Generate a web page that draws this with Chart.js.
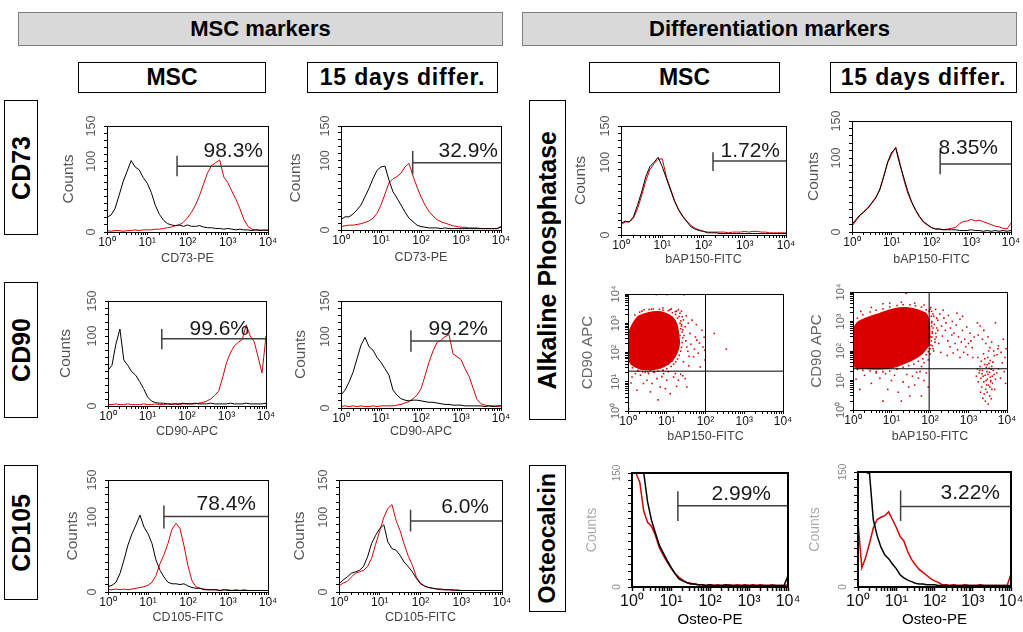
<!DOCTYPE html>
<html>
<head>
<meta charset="utf-8">
<script src="https://cdn.jsdelivr.net/npm/chart.js@4.4.1/dist/chart.umd.min.js"></script>
<style>
  body { margin: 0; width: 1023px; height: 632px; overflow: hidden; background: #fff; position: relative;
         font-family: "Liberation Sans", Arial, Helvetica, sans-serif; }
  .hdr { position: absolute; background: #d9d9d9; border: 1px solid #7f7f7f; box-sizing: border-box;
         display: flex; align-items: center; justify-content: center; font-weight: bold; font-size: 22px; }
  .col { position: absolute; border: 1.5px solid #000; box-sizing: border-box; background: #fff;
         display: flex; align-items: center; justify-content: center; font-weight: bold; font-size: 23px; }
  .wide { letter-spacing: 0.8px; }
  .row { position: absolute; border: 1.5px solid #000; box-sizing: border-box;
         display: flex; align-items: center; justify-content: center; font-weight: bold; font-size: 25px; }
  .row span { writing-mode: vertical-rl; transform: rotate(180deg); white-space: nowrap; }
  canvas { position: absolute; }
</style>
</head>
<body>
<div class="hdr" style="left:18px;top:12px;width:485px;height:34px">MSC markers</div>
<div class="hdr" style="left:522px;top:12px;width:495px;height:34px">Differentiation markers</div>
<div class="col" style="left:78px;top:62px;width:188px;height:31px">MSC</div>
<div class="col wide" style="left:307px;top:62px;width:191px;height:31px">15 days differ.</div>
<div class="col" style="left:589px;top:62px;width:191px;height:31px">MSC</div>
<div class="col wide" style="left:830px;top:62px;width:187px;height:31px">15 days differ.</div>
<div class="row" style="left:4px;top:100px;width:34px;height:135px"><span>CD73</span></div>
<div class="row" style="left:4px;top:282px;width:34px;height:136px"><span>CD90</span></div>
<div class="row" style="left:4px;top:465px;width:34px;height:135px"><span>CD105</span></div>
<div class="row" style="left:529px;top:100px;width:37px;height:320px"><span>Alkaline Phosphatase</span></div>
<div class="row" style="left:529px;top:465px;width:37px;height:147px;font-size:23px"><span>Osteocalcin</span></div>

<script>
// fluorescence channels (log spaced, 10 per decade)
const channels = [1, 1.26, 1.58, 2, 2.51, 3.16, 3.98, 5.01, 6.31, 7.94,
  10, 12.6, 15.8, 20, 25.1, 31.6, 39.8, 50.1, 63.1, 79.4,
  100, 126, 158, 200, 251, 316, 398, 501, 631, 794,
  1000, 1260, 1580, 2000, 2510, 3160, 3980, 5010, 6310, 7940, 10000];
const decadeLabels = ['10⁰', '10¹', '10²', '10³', '10⁴'];
const countTicks = [0, 100, 150];
const osteoCountTicks = [0, 150];

// histogram counts: isotype (black) and stained (red)
const cd73MscIso = [21, 24, 33, 52, 71, 86, 101, 92, 88, 77, 69, 56, 38, 25, 17, 12, 10, 9, 10, 8, 10, 8, 8, 9, 7, 6, 6, 5, 5, 4, 5, 4, 3, 4, 3, 3, 2, 3, 2, 3, 2];
const cd73Msc = [2, 1, 2, 2, 1, 2, 2, 3, 2, 3, 3, 3, 4, 4, 5, 6, 7, 9, 10, 14, 20, 28, 38, 52, 68, 84, 94, 98, 102, 78, 70, 58, 47, 33, 18, 8, 4, 3, 3, 2, 3];
const cd73DiffIso = [15, 19, 19, 23, 29, 36, 48, 60, 74, 86, 91, 92, 72, 55, 46, 36, 26, 17, 12, 7, 5, 4, 3, 3, 3, 2, 3, 2, 2, 2, 2, 2, 2, 2, 2, 2, 2, 2, 2, 2, 5];
const cd73Diff = [5, 6, 7, 7, 8, 9, 11, 13, 17, 24, 36, 52, 68, 74, 77, 82, 91, 96, 78, 62, 48, 36, 27, 20, 15, 12, 10, 8, 6, 5, 4, 4, 3, 3, 3, 2, 2, 2, 2, 2, 4];
const alpMscIso = [16, 19, 18, 25, 41, 59, 80, 94, 100, 107, 94, 78, 62, 46, 34, 25, 18, 11, 8, 6, 5, 3, 3, 3, 2, 2, 2, 2, 2, 2, 2, 2, 2, 2, 2, 2, 2, 2, 2, 2, 2];
const alpMsc = [14, 18, 18, 23, 36, 54, 74, 90, 98, 104, 105, 80, 64, 47, 35, 26, 19, 13, 9, 7, 5, 4, 4, 4, 4, 4, 3, 4, 4, 4, 5, 4, 5, 5, 4, 4, 3, 3, 3, 3, 3];
const alpDiffIso = [10, 17, 23, 27, 32, 39, 46, 57, 75, 95, 108, 113, 92, 74, 56, 41, 30, 21, 14, 10, 6, 4, 4, 3, 3, 3, 3, 2, 2, 2, 3, 2, 2, 1, 2, 1, 2, 1, 2, 1, 2];
const alpDiff = [8, 15, 22, 28, 33, 40, 47, 58, 76, 94, 105, 115, 95, 71, 53, 40, 29, 20, 13, 9, 6, 4, 4, 3, 4, 5, 6, 11, 14, 15, 17, 15, 16, 14, 12, 10, 8, 7, 5, 4, 12];
const cd90MscIso = [51, 58, 88, 110, 66, 58, 49, 44, 35, 25, 13, 7, 5, 4, 4, 3, 3, 3, 3, 4, 3, 3, 4, 3, 3, 3, 4, 3, 3, 3, 3, 4, 3, 3, 3, 4, 3, 3, 3, 3, 4];
const cd90Msc = [2, 2, 3, 2, 2, 3, 2, 2, 2, 3, 2, 2, 3, 2, 2, 3, 2, 3, 2, 3, 3, 3, 3, 4, 5, 7, 10, 15, 21, 40, 62, 76, 86, 91, 95, 116, 100, 92, 70, 47, 100];
const cd90DiffIso = [18, 25, 36, 50, 69, 88, 99, 86, 81, 71, 64, 55, 46, 25, 18, 13, 11, 10, 11, 11, 10, 9, 8, 8, 7, 6, 5, 5, 4, 4, 4, 3, 3, 3, 3, 3, 2, 3, 2, 3, 3];
const cd90Diff = [2, 3, 2, 3, 2, 3, 2, 2, 3, 2, 3, 3, 3, 3, 4, 5, 7, 9, 13, 18, 27, 45, 64, 80, 92, 95, 100, 103, 76, 72, 68, 55, 45, 28, 12, 6, 4, 3, 3, 2, 3];
const cd105MscIso = [7, 9, 13, 25, 43, 63, 78, 90, 103, 87, 78, 65, 43, 29, 20, 13, 11, 11, 10, 11, 8, 6, 5, 5, 3, 3, 3, 3, 2, 3, 2, 2, 2, 2, 2, 2, 2, 2, 2, 2, 2];
const cd105Msc = [3, 3, 4, 3, 4, 3, 4, 5, 6, 7, 9, 13, 22, 38, 50, 65, 84, 92, 85, 62, 35, 15, 7, 5, 4, 3, 3, 3, 2, 3, 3, 2, 3, 2, 3, 2, 2, 2, 2, 2, 2];
const cd105DiffIso = [11, 16, 20, 25, 27, 29, 34, 47, 65, 76, 85, 90, 67, 58, 56, 49, 40, 34, 27, 18, 11, 8, 6, 5, 4, 4, 3, 3, 3, 2, 2, 2, 2, 2, 2, 2, 2, 2, 2, 2, 2];
const cd105Diff = [8, 12, 14, 20, 25, 27, 29, 34, 45, 64, 82, 100, 112, 117, 96, 82, 64, 48, 36, 20, 12, 8, 6, 5, 4, 3, 3, 3, 2, 3, 2, 2, 2, 2, 2, 2, 2, 2, 2, 2, 2];
const osteoMscIso = [150, 150, 150, 150, 112, 88, 71, 55, 45, 35, 26, 18, 11, 8, 6, 4, 4, 3, 3, 2, 3, 2, 2, 2, 3, 2, 2, 2, 2, 2, 2, 2, 2, 2, 2, 2, 2, 2, 2, 2, 15];
const osteoMsc = [150, 150, 138, 100, 85, 80, 68, 52, 42, 33, 25, 18, 13, 9, 6, 5, 4, 3, 3, 2, 3, 2, 3, 2, 2, 3, 2, 3, 2, 3, 2, 3, 2, 3, 2, 2, 3, 2, 2, 2, 3];
const osteoDiffIso = [150, 150, 150, 148, 88, 67, 52, 42, 37, 30, 24, 16, 12, 9, 7, 5, 4, 4, 3, 3, 3, 2, 2, 2, 2, 2, 2, 2, 2, 2, 2, 2, 2, 2, 2, 2, 2, 2, 2, 2, 2];
const osteoDiff = [85, 25, 38, 57, 77, 88, 91, 93, 98, 88, 78, 66, 60, 46, 36, 29, 23, 19, 15, 11, 8, 6, 3, 3, 2, 3, 2, 2, 3, 2, 2, 2, 3, 2, 2, 2, 2, 2, 2, 2, 17];

// marker gates, one per histogram panel
const gatePercent = ['98.3%', '32.9%', '1.72%', '8.35%', '99.6%', '99.2%', '78.4%', '6.0%', '2.99%', '3.22%'];
const gateStart = [55, 62, 170, 165, 23, 56, 25, 57, 15, 13];
const gateLevel = [93, 97, 102, 92, 96, 94, 101, 95, 107, 105];
const gateHigh = [108, 114, 114, 109, 110, 109, 116, 110, 126, 126];
const gateLow = [79, 80, 88, 78, 81, 79, 85, 81, 87, 86];

// dot plots: CD90 APC vs bAP150-FITC
const quadX = [100, 95];
const quadY = [23, 25];
const alpMscBlobX = [1.04, 1.3, 1.9, 3.1, 5.6, 9.1, 14, 18, 20, 21, 19, 15.5, 12, 8.3, 5.6, 3.1, 1.9, 1.26, 1.07, 1.04, 1.04];
const alpMscBlobY = [450, 900, 1750, 2200, 2450, 2200, 1600, 950, 450, 200, 110, 66, 45, 33, 28, 26, 29, 38, 55, 155, 450];
const alpMscDots = [[30,760],[40,450],[33,155],[49,71],[60,265],[81,580],[86,155],[73,32],[45,1280],[27,48],[37,35],[25,1680],
  [16.6,2500],[22,2200],[27,1300],[5.4,9500],[10,9500],[28,9500],[168,450],[344,130],
  [24,900],[26,600],[28,380],[31,250],[35,110],[38,75],[42,190],[52,130],[55,340],[65,95],[70,210],[92,330],[95,120],
  [24,2600],[13,3100],[8,3300],[4,3000],[2.3,2600],[1.5,1900],[20,2900],[32,1800],[36,1000],[58,900],[96,55],
  [1.27,14.6],[2.1,16.7],[3.1,11.3],[4.2,8.7],[5.6,12.8],[6.8,6.6],[10,11.3],[15,14.6],[20,11.3],[30,12.8],
  [6,2.4],[3.8,4.5],[1.7,5.1],[1.04,1.2],[2.5,8.7],[12.3,3.9],[9.2,5.8],[33,6.6],[3.4,19],[8.3,19],[16.6,19],[1.55,19],
  [4.8,21],[11,22],[23,18],[7.5,15],[2.8,21],[1.2,9],[18,7],[26,16],
  [2,2400],[2.6,2900],[3.5,2950],[4.5,3100],[6.5,3000],[8,2800],[11,2700],[14,2300],[17,2000],[19,1500],
  [23,1200],[24,800],[25,500],[26,320],[25,220],[24,150],[23,110],[21,80],[19,60],[17,48],
  [1.3,30],[1.8,24],[2.4,22],[3.3,21.5],[4.5,22],[6,23],[8,25],[10,28],[13,33],[15,40],
  [21,1700],[18,2600],[12,2900],[22,1000],[23,650],[22,380],[21,260],[20,130],[16,70],[14,52],[11,40],[7,30],[3.8,25],[2.2,27]];
const alpDiffBlobX = [1.04, 1.35, 2.2, 4.9, 11, 24, 50, 80, 95, 95, 76, 52, 30, 13.3, 4.9, 2.2, 1.1, 1.04, 1.04];
const alpDiffBlobY = [600, 950, 1300, 1850, 2600, 2900, 2400, 1800, 850, 190, 110, 68, 46, 30, 25, 26, 30, 85, 600];
const alpDiffDots = [[13,10000],[24,9000],[6,4000],[9,4200],[3,3000],[1.6,2200],[40,4200],[70,3600],[18,4500],[100,2600],
  [110,2200],[125,1500],[140,2600],[160,1100],[180,1800],[200,700],[230,1300],[260,900],[300,1600],[340,600],[380,1000],
  [420,400],[480,750],[550,300],[600,1200],[700,500],[800,250],[900,650],[1000,180],[1100,400],[1250,130],[1400,300],
  [115,400],[135,250],[150,600],[170,180],[210,320],[250,500],[290,220],[330,140],[370,350],[450,180],[520,110],[650,200],
  [750,90],[850,140],[950,75],[1150,220],[1300,60],[120,120],[190,90],[280,70],[400,85],[600,60],[105,3000],[220,2400],
  [500,1900],[700,1500],[1700,900],[2000,700],[1800,350],[2500,500],[3200,300],[4000,200],[5000,900],[6000,150],[8000,250],
  [9500,120],[2300,250],[2800,180],[3600,130],[4500,100],[5500,75],[7000,90],[8800,60],
  [1700,25],[1900,18],[2100,12],[2300,22],[2500,9],[2700,15],[2900,28],[3100,11],[3300,7],[3500,19],[3700,13],[3900,24],
  [4200,8],[4600,16],[5000,11],[1800,9],[2000,30],[2200,6],[2400,14],[2600,35],[2800,5],[3000,20],[3200,16],[3400,38],
  [3600,6],[3800,10],[4000,30],[4400,22],[4800,5],[5400,18],[2150,45],[2650,55],[3150,60],[3650,48],[4300,42],[1600,14],
  [2050,4],[2550,3.5],[3050,4],[3550,3],[4050,5],[2350,2.5],[2750,2],[3250,1.6],[3900,2.4],[6000,25],[6800,12],[7500,40],
  [8500,20],[9200,8],[1750,60],[2450,80],[3350,100],[4700,70],[5800,120],[2250,17],[2850,10],[3450,26],[3750,9],[4150,14],
  [2950,7],[1950,22],[3050,34],
  [3,8],[5,12],[8,5],[12,15],[20,9],[30,3],[50,12],[80,18],[90,6],[2,15],[1.5,5],[6,2],[15,4],[40,7],[60,3],[25,16],
  [10,10],[4,18],[35,14],[70,10],[18,2],[45,19],[1.2,11],[7,17],[55,20],[28,6],
  [110,900],[120,600],[105,300],[115,150],[100,80],[90,50],[70,40],[60,30],
  [1.3,1300],[1.8,1700],[2.8,2100],[4,2400],[6,2700],[9,3100],[14,3500],[20,3700],[30,3700],[42,3400],[60,3100],[80,2500],[95,2200],
  [108,1500],[112,1000],[110,700],[115,450],[112,300],[108,220],[105,160],[100,120],[90,95],
  [80,75],[65,55],[50,45],[38,36],[28,32],[20,28],[14,24],[9,21],[6,20],[4,20],[2.8,21],[1.8,22],[1.3,24],[1.1,30],
  [120,1800],[130,800],[140,400],[135,200],[125,100],[150,1300],[160,500],[145,300]];

Chart.defaults.font.family = '"Liberation Sans", Arial, Helvetica, sans-serif';
const RED = 'rgb(218,0,0)';
const PAD_T = 14, PAD_R = 14;

function decadeTick(v) {
  const e = Math.log10(v), r = Math.round(e);
  return Math.abs(e - r) < 1e-6 ? decadeLabels[r] : '';
}
// keep 1..9 x 10^n ticks only
function keepLogTicks(s) {
  s.ticks = s.ticks.filter(function (t) {
    const m = t.value / Math.pow(10, Math.floor(Math.log10(t.value) + 1e-9));
    return Math.abs(m - Math.round(m)) < 1e-6;
  });
}

const framePlugin = {
  id: 'frame',
  afterDatasetsDraw(chart, args, o) {
    const a = chart.chartArea, ctx = chart.ctx;
    const w = o.width || 1, off = w % 2 ? 0.5 : 0;
    ctx.save();
    ctx.strokeStyle = '#000';
    ctx.lineWidth = w;
    ctx.strokeRect(Math.round(a.left) + off, Math.round(a.top) + off,
      Math.round(a.right - a.left), Math.round(a.bottom - a.top));
    ctx.restore();
  }
};

const gateLabelPlugin = {
  id: 'gateLabel',
  afterDatasetsDraw(chart, args, o) {
    if (!o || !o.text) return;
    const a = chart.chartArea, ctx = chart.ctx;
    const y = chart.scales.y.getPixelForValue(o.level);
    ctx.save();
    ctx.font = '21px "Liberation Sans", Arial, sans-serif';
    ctx.fillStyle = '#1a1a1a';
    ctx.textAlign = 'right';
    ctx.textBaseline = 'alphabetic';
    ctx.fillText(o.text, a.right - o.inset, y - o.gap);
    ctx.restore();
  }
};

function makeCanvas(p) {
  const l = p.box[0], t = p.box[1], r = p.box[2], b = p.box[3];
  const w = (r - l) + p.yW + PAD_R, h = (b - t) + p.xH + PAD_T;
  const cv = document.createElement('canvas');
  cv.width = w; cv.height = h;
  cv.style.left = (l - p.yW) + 'px';
  cv.style.top = (t - PAD_T) + 'px';
  cv.style.width = w + 'px';
  cv.style.height = h + 'px';
  document.body.appendChild(cv);
  return cv;
}

function xLogAxis(p, big) {
  return {
    type: 'logarithmic', min: 1, max: 10000,
    afterBuildTicks: keepLogTicks,
    afterFit: function (s) { s.height = p.xH; },
    border: { display: true, color: '#000', width: big ? 2 : 1 },
    grid: { drawOnChartArea: false, drawTicks: true, tickLength: big ? 4 : 3, tickColor: '#000', tickWidth: big ? 1.5 : 1 },
    ticks: { autoSkip: false, maxRotation: 0, minRotation: 0, padding: big ? 1 : 0,
             color: '#111', font: { size: big ? 16 : 12 }, callback: decadeTick },
    title: { display: true, text: p.title, color: big ? '#000' : '#444', font: { size: big ? 15 : 12.5 }, padding: 0 }
  };
}

const histPanels = [
  { box: [107, 126, 268, 232], yW: 48, xH: 34, title: 'CD73-PE', iso: cd73MscIso, stain: cd73Msc, inset: 5, gap: 9 },
  { box: [341, 126, 501, 230], yW: 55, xH: 35, title: 'CD73-PE', iso: cd73DiffIso, stain: cd73Diff, inset: 3, gap: 6 },
  { box: [621, 126, 786, 235], yW: 50, xH: 32, title: 'bAP150-FITC', iso: alpMscIso, stain: alpMsc, inset: 6, gap: 4 },
  { box: [852, 121, 1011, 232], yW: 48, xH: 35, title: 'bAP150-FITC', iso: alpDiffIso, stain: alpDiff, inset: 13, gap: 10 },
  { box: [108, 301, 266, 406], yW: 52, xH: 33, title: 'CD90-APC', iso: cd90MscIso, stain: cd90Msc, inset: 17, gap: 4 },
  { box: [341, 301, 501, 408], yW: 50, xH: 31, title: 'CD90-APC', iso: cd90DiffIso, stain: cd90Diff, inset: 13, gap: 6 },
  { box: [108, 480, 268, 592], yW: 45, xH: 33, title: 'CD105-FITC', iso: cd105MscIso, stain: cd105Msc, inset: 12, gap: 7 },
  { box: [339, 480, 502, 592], yW: 49, xH: 33, title: 'CD105-FITC', iso: cd105DiffIso, stain: cd105Diff, inset: 13, gap: 8 },
  { box: [632, 473, 788, 587], yW: 48, xH: 42, title: 'Osteo-PE', iso: osteoMscIso, stain: osteoMsc, inset: 17, gap: 6, osteo: true },
  { box: [858, 472, 1011, 587], yW: 51, xH: 42, title: 'Osteo-PE', iso: osteoDiffIso, stain: osteoDiff, inset: 11, gap: 8, osteo: true }
];

histPanels.forEach(function (p, i) {
  const os = !!p.osteo;
  const pts = function (arr) { return channels.map(function (c, k) { return { x: c, y: arr[k] }; }); };
  const labels = os ? osteoCountTicks : countTicks;
  new Chart(makeCanvas(p), {
    type: 'line',
    data: {
      datasets: [
        { data: [{ x: gateStart[i], y: gateHigh[i] }, { x: gateStart[i], y: gateLow[i] }], borderColor: '#404040', borderWidth: 1.5, pointRadius: 0 },
        { data: [{ x: gateStart[i], y: gateLevel[i] }, { x: 10000, y: gateLevel[i] }], borderColor: '#404040', borderWidth: 1.5, pointRadius: 0 },
        { data: pts(p.iso), borderColor: '#000', borderWidth: os ? 1.5 : 1, pointRadius: 0, tension: 0 },
        { data: pts(p.stain), borderColor: RED, borderWidth: os ? 1.5 : 1, pointRadius: 0, tension: 0 }
      ]
    },
    options: {
      responsive: false, animation: false, events: [],
      layout: { padding: { top: PAD_T, right: PAD_R, left: 0, bottom: 0 } },
      plugins: {
        legend: { display: false }, tooltip: { enabled: false },
        frame: { width: os ? 2 : 1 },
        gateLabel: { text: gatePercent[i], level: gateLevel[i], inset: p.inset, gap: p.gap }
      },
      scales: {
        x: xLogAxis(p, os),
        y: {
          type: 'linear', min: 0, max: 150,
          afterFit: function (s) { s.width = p.yW; },
          border: { display: true, color: '#000', width: os ? 2 : 1 },
          grid: { drawOnChartArea: false, drawTicks: true, tickLength: os ? 4 : 3, tickColor: '#000' },
          ticks: { stepSize: 10, autoSkip: false, minRotation: 90, maxRotation: 90, crossAlign: 'center', padding: 2,
                   color: os ? '#888' : '#555', font: { size: os ? 10 : 12.5 },
                   callback: function (v) { return labels.indexOf(v) >= 0 ? String(v) : ''; } },
          title: { display: true, text: 'Counts', color: os ? '#aaa' : '#555', font: { size: os ? 14 : 15.5 }, padding: 0 }
        }
      }
    },
    plugins: [framePlugin, gateLabelPlugin]
  });
});

const dotPanels = [
  { box: [628, 294, 783, 411], yW: 49, xH: 33, title: 'bAP150-FITC', blobX: alpMscBlobX, blobY: alpMscBlobY, dots: alpMscDots },
  { box: [853, 292, 1007, 410], yW: 45, xH: 34, title: 'bAP150-FITC', blobX: alpDiffBlobX, blobY: alpDiffBlobY, dots: alpDiffDots }
];

dotPanels.forEach(function (p, i) {
  new Chart(makeCanvas(p), {
    type: 'scatter',
    data: {
      datasets: [
        { type: 'line', data: [{ x: quadX[i], y: 1 }, { x: quadX[i], y: 10000 }], borderColor: '#000', borderWidth: 1, pointRadius: 0 },
        { type: 'line', data: [{ x: 1, y: quadY[i] }, { x: 10000, y: quadY[i] }], borderColor: '#000', borderWidth: 1, pointRadius: 0 },
        { data: p.dots.map(function (d) { return { x: d[0], y: d[1] }; }), backgroundColor: RED, borderWidth: 0, pointRadius: 1.1, pointStyle: 'rect' },
        { type: 'line', data: p.blobX.map(function (x, k) { return { x: x, y: p.blobY[k] }; }),
          borderColor: RED, backgroundColor: RED, borderWidth: 1.5, pointRadius: 0, fill: 'shape', tension: 0.3 }
      ]
    },
    options: {
      responsive: false, animation: false, events: [],
      layout: { padding: { top: PAD_T, right: PAD_R, left: 0, bottom: 0 } },
      plugins: { legend: { display: false }, tooltip: { enabled: false }, frame: { width: 1 } },
      scales: {
        x: xLogAxis(p, false),
        y: {
          type: 'logarithmic', min: 1, max: 10000,
          afterBuildTicks: keepLogTicks,
          afterFit: function (s) { s.width = p.yW; },
          border: { display: true, color: '#000' },
          grid: { drawOnChartArea: false, drawTicks: true, tickLength: 3, tickColor: '#000' },
          ticks: { autoSkip: false, minRotation: 90, maxRotation: 90, crossAlign: 'center', padding: 1,
                   color: '#666', font: { size: 11 }, callback: decadeTick },
          title: { display: true, text: 'CD90 APC', color: '#666', font: { size: 15 }, padding: 0 }
        }
      }
    },
    plugins: [framePlugin]
  });
});
</script>
</body>
</html>
